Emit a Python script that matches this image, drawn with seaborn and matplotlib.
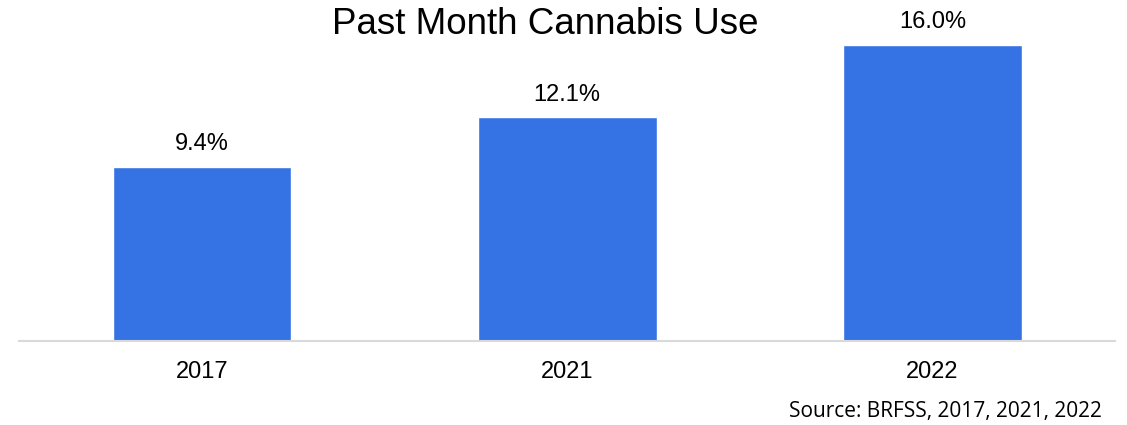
import matplotlib
matplotlib.use("Agg")
import matplotlib.pyplot as plt
import seaborn as sns
import pandas as pd

years = ["2017", "2021", "2022"]
values = [9.4, 12.1, 16.0]
labels = ["9.4%", "12.1%", "16.0%"]
title = "Past Month Cannabis Use"
source = "Source: BRFSS, 2017, 2021, 2022"

sns.set_theme(style="white")
plt.rcParams['font.family'] = ['Liberation Sans', 'DejaVu Sans']

W, H = 1127, 425
fig = plt.figure(figsize=(W / 100, H / 100), dpi=100)
ax = fig.add_axes([19.4 / W, (H - 340.5) / H, (1115 - 19.4) / W, 333 / H])

df = pd.DataFrame({"year": years, "value": values})
sns.barplot(data=df, x="year", y="value", color="#3573E5", saturation=1,
            width=0.49, ax=ax)

ax.set_ylim(0, 333 / 18.5)
ax.set_xlim(-0.5, 2.5)
for i, (v, lab) in enumerate(zip(values, labels)):
    ax.text(i, v + 0.6, lab, ha="center", va="bottom", fontsize=17, color="#000000")

ax.set_xlabel("")
ax.set_ylabel("")
ax.set_yticks([])
ax.tick_params(axis="x", labelsize=17, colors="#000000", length=0, pad=15)
for s in ["top", "right", "left"]:
    ax.spines[s].set_visible(False)
ax.spines["bottom"].set_color("#D9D9D9")
ax.spines["bottom"].set_linewidth(1.5)

fig.text(545 / W, 1 - 24 / H, title, ha="center", va="center", fontsize=26.5, color="#000000")
fig.text(1102 / W, 1 - 411 / H, source, ha="right", va="center", fontsize=15,
         color="#000000", family=["Open Sans", "DejaVu Sans"])

fig.savefig("out.png", dpi=100)
